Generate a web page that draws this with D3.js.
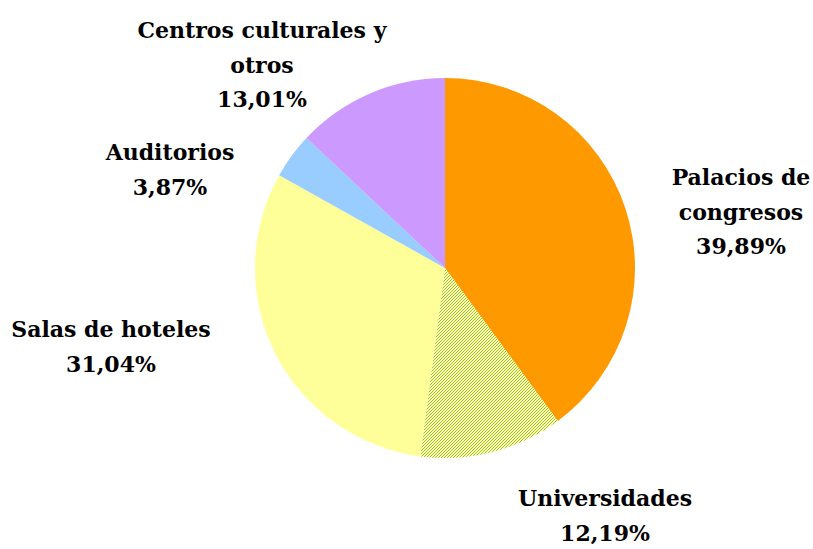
<!DOCTYPE html>
<html><head><meta charset="utf-8">
<script src="https://cdn.jsdelivr.net/npm/d3@7"></script>
<style>body{margin:0;background:#fff}svg{display:block}
.lbl{font-family:"DejaVu Serif",serif;font-weight:bold;font-size:22px}</style>
</head><body>
<script>
const categories = ["Palacios de congresos","Universidades","Salas de hoteles","Auditorios","Centros culturales y otros"];
const values = [39.89, 12.19, 31.04, 3.87, 13.01];
const labelLines = [["Palacios de","congresos"],["Universidades"],["Salas de hoteles"],["Auditorios"],["Centros culturales y","otros"]];
const colors = ["#FF9900","url(#hatch)","#FFFF99","#99CCFF","#CC99FF"];
const labelPos = [[741,185],[605,506],[111,337],[170,160],[262,38]];

const W=813,H=549,cx=445,cy=268,R=190;
const svg=d3.select("body").append("svg").attr("width",W).attr("height",H);
const defs=svg.append("defs");
const p=defs.append("pattern").attr("id","hatch").attr("patternUnits","userSpaceOnUse").attr("width",3).attr("height",3);
p.append("rect").attr("width",3).attr("height",3).attr("fill","#FFFFCC");
[[2,0],[1,1],[0,2]].forEach(([x,y])=>
  p.append("rect").attr("x",x).attr("y",y).attr("width",1).attr("height",1).attr("fill","#99CC00"));
p.selectAll("rect").attr("shape-rendering","crispEdges");

const pie=d3.pie().sort(null).value(d=>d)(values);
const arc=d3.arc().innerRadius(0).outerRadius(R);
const g=svg.append("g").attr("transform",`translate(${cx},${cy})`);
g.selectAll("path").data(pie).join("path").attr("d",arc).attr("fill",(d,i)=>colors[i]);

const fmt=v=>v.toFixed(2).replace(".",",")+"%";
const lh=34.5;
labelPos.forEach((pos,i)=>{
  const lines=labelLines[i].concat([fmt(values[i])]);
  const t=svg.append("text").attr("class","lbl").attr("text-anchor","middle").attr("fill","#000");
  lines.forEach((l,j)=>t.append("tspan").attr("x",pos[0]).attr("y",pos[1]+j*lh).text(l));
});
</script>
</body></html>
